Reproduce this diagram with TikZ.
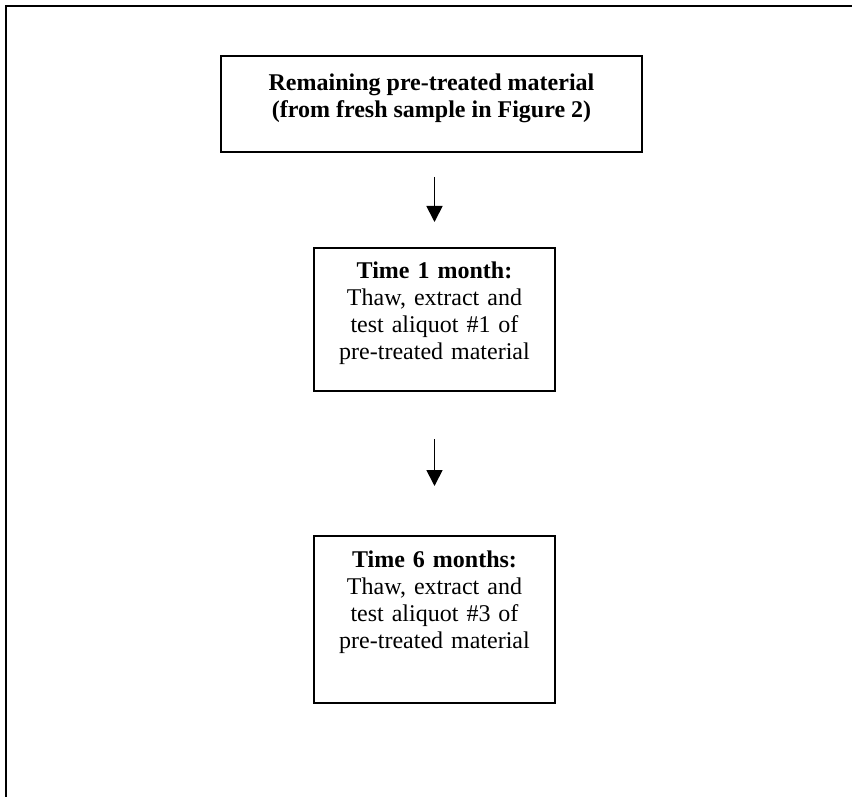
\documentclass[tikz,border=0pt]{standalone}
\usepackage{fontspec}
\setmainfont{Liberation Serif}
\usetikzlibrary{
    arrows.meta,
    calc
}
\tikzset{
  frame/.style={
    black,
    line width=1.25pt
  },
  stagebox/.style={
    draw,
    black,
    line width=1pt,
    align=center,
    anchor=north,
    font=\fontsize{12}{13.5}\selectfont
  },
  flow/.style={
    -{Triangle[length=8pt,width=8pt]},
    line width=0.9pt
  }
}

\begin{document}
\begin{tikzpicture}[x=0.5pt,y=-0.5pt]
    \useasboundingbox (0,0) rectangle (852,797);
    % 外枠
    \draw[frame] (852,6) -| (6,797);

    % 箱
    \node[stagebox,minimum width=210.5pt,minimum height=48pt,text depth=8pt] (remain) at (431.5,55)
        {\textbf{Remaining pre-treated material}\\\textbf{(from fresh sample in Figure 2)}};
    \node[stagebox,text width=114pt,text height=12pt,text depth=53pt] (month1) at (434.5,247)
        {\textbf{Time 1 month:}\\Thaw, extract and\\test aliquot \#1 of\\pre-treated material};
    \node[stagebox,text width=114pt,text height=12.5pt,text depth=64.5pt] (month6) at (434.5,535)
        {\textbf{Time 6 months:}\\Thaw, extract and\\test aliquot \#3 of\\pre-treated material};

    % 矢印
    \draw[flow,shorten <=12pt,shorten >=12.5pt] (month1.north |- remain.south) -- (month1.north);
    \draw[flow,shorten <=23.5pt,shorten >=24.5pt] (month1.south) -- (month6.north);
\end{tikzpicture}
\end{document}
